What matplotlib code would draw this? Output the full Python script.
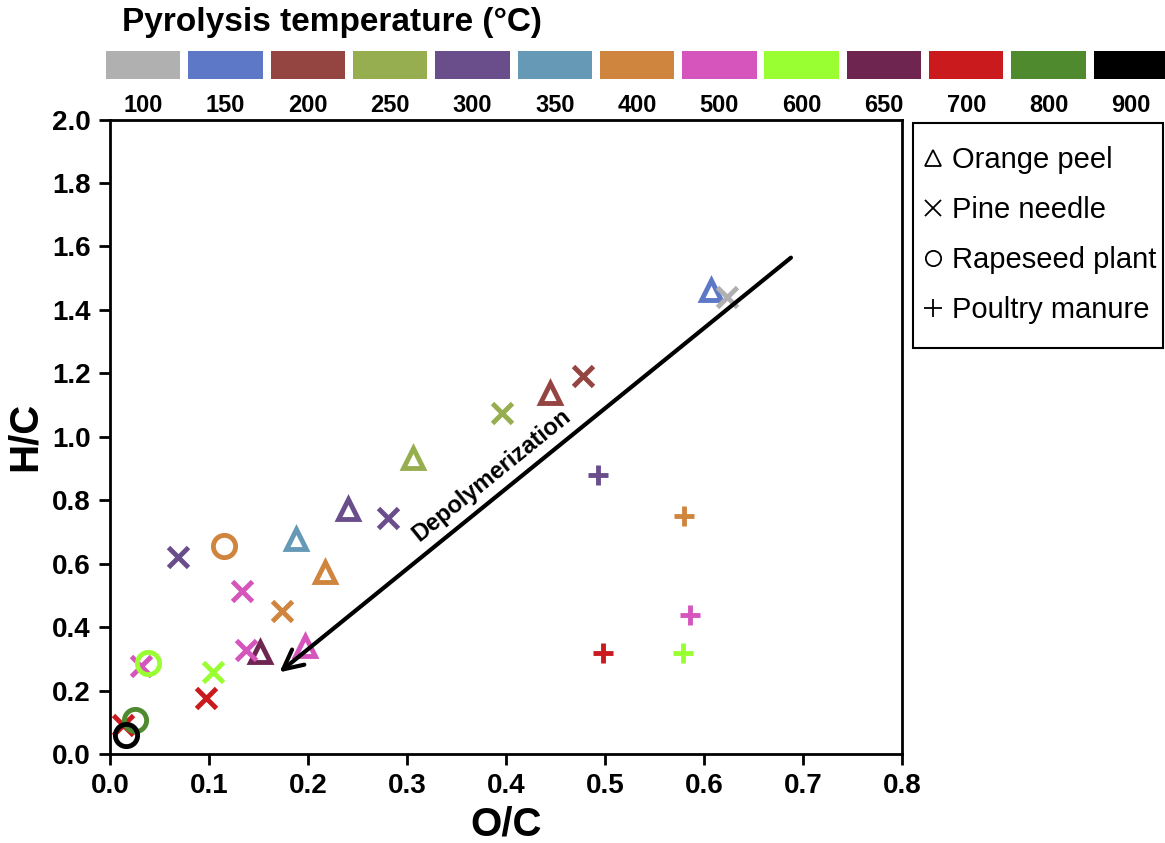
import matplotlib.pyplot as plt
from matplotlib.lines import Line2D
from matplotlib.patches import Rectangle

plt.rcParams['font.family'] = ['Liberation Sans', 'DejaVu Sans']

temps = [100, 150, 200, 250, 300, 350, 400, 500, 600, 650, 700, 800, 900]
temp_colors = ['#B0B0B0', '#5E78C8', '#944441', '#97AE50', '#6A4E8C', '#6699B6',
               '#D0853F', '#D555BC', '#99FF33', '#6E2550', '#CB1A1D', '#4F8A2F', '#000000']
cmap = dict(zip(temps, temp_colors))

# Orange peel (triangles)
op_x = [0.607, 0.444, 0.306, 0.240, 0.188, 0.217, 0.197, 0.152]
op_y = [1.463, 1.138, 0.933, 0.772, 0.678, 0.574, 0.340, 0.322]
op_t = [150, 200, 250, 300, 350, 400, 500, 650]

# Pine needle (x)
pn_x = [0.623, 0.478, 0.396, 0.281, 0.069, 0.174, 0.133, 0.137, 0.031, 0.104, 0.097, 0.013]
pn_y = [1.441, 1.191, 1.075, 0.744, 0.621, 0.451, 0.514, 0.328, 0.277, 0.258, 0.177, 0.091]
pn_t = [100, 200, 250, 300, 300, 400, 500, 500, 500, 600, 700, 700]

# Rapeseed plant (circles)
rp_x = [0.115, 0.038, 0.025, 0.016]
rp_y = [0.656, 0.287, 0.107, 0.060]
rp_t = [400, 600, 800, 900]

# Poultry manure (+)
pm_x = [0.493, 0.580, 0.586, 0.579, 0.498]
pm_y = [0.879, 0.750, 0.438, 0.318, 0.318]
pm_t = [300, 400, 500, 600, 700]

W, H = 1165, 843
fig = plt.figure(figsize=(W / 100, H / 100), dpi=100)
ax = fig.add_axes([110 / W, 1 - 754 / H, 792 / W, 634.5 / H])

ms = 14
for x, y, t in zip(op_x, op_y, op_t):
    ax.plot(x, y, marker='^', ms=ms, mfc='none', mec=cmap[t], mew=3.5, ls='none')
for x, y, t in zip(pn_x, pn_y, pn_t):
    ax.plot(x, y, marker='x', ms=ms + 1, mec=cmap[t], mew=3.5, ls='none')
for x, y, t in zip(rp_x, rp_y, rp_t):
    ax.plot(x, y, marker='o', ms=ms + 2, mfc='none', mec=cmap[t], mew=3.5, ls='none')
for x, y, t in zip(pm_x, pm_y, pm_t):
    ax.plot(x, y, marker='+', ms=ms + 1, mec=cmap[t], mew=3.5, ls='none')

ax.annotate('', xy=(0.169, 0.252), xytext=(0.690, 1.570),
            arrowprops=dict(arrowstyle='->', lw=3, color='black', mutation_scale=35))
ax.text(0.385, 0.879, 'Depolymerization', rotation=39, rotation_mode='anchor',
        ha='center', va='center', fontsize=17, fontweight='bold')

ax.set_xlim(0, 0.8)
ax.set_ylim(0, 2.0)
ax.set_xticks([0.0, 0.1, 0.2, 0.3, 0.4, 0.5, 0.6, 0.7, 0.8])
ax.set_yticks([0.0, 0.2, 0.4, 0.6, 0.8, 1.0, 1.2, 1.4, 1.6, 1.8, 2.0])
ax.xaxis.set_major_formatter(plt.FormatStrFormatter('%.1f'))
ax.yaxis.set_major_formatter(plt.FormatStrFormatter('%.1f'))
ax.tick_params(direction='out', length=8, width=2, labelsize=20, pad=6)
for lab in ax.get_xticklabels() + ax.get_yticklabels():
    lab.set_fontweight('bold')
for s in ax.spines.values():
    s.set_linewidth(2)
ax.set_xlabel('O/C', fontsize=29, fontweight='bold', labelpad=4)
ax.set_ylabel('H/C', fontsize=29, fontweight='bold', labelpad=6)

handles = [
    Line2D([], [], marker='^', mfc='none', mec='black', ms=11, mew=1.3, ls='none'),
    Line2D([], [], marker='x', mec='black', ms=11, mew=1.3, ls='none'),
    Line2D([], [], marker='o', mfc='none', mec='black', ms=11, mew=1.3, ls='none'),
    Line2D([], [], marker='+', mec='black', ms=13, mew=1.3, ls='none'),
]
fig.legend(handles, ['Orange peel', 'Pine needle', 'Rapeseed plant', 'Poultry manure'],
           loc='center left', bbox_to_anchor=(913 / W, 1 - 235 / H),
           fontsize=21, frameon=False,
           handlelength=0.7, handletextpad=0.3, labelspacing=0.75,
           borderpad=0.35, borderaxespad=0)
fig.add_artist(Rectangle((913 / W, 1 - 348 / H), 250 / W, 225 / H,
                         transform=fig.transFigure, fill=False, lw=1.5, ec='black'))

# temperature key
key = fig.add_axes([102.1 / W, 1 - 79 / H, 13 * 82.3 / W, 28 / H])
key.bar(range(len(temps)), 1, width=0.905, color=temp_colors)
key.set_xlim(-0.5, len(temps) - 0.5)
key.set_ylim(0, 1)
key.set_xticks(range(len(temps)))
key.set_xticklabels([str(t) for t in temps], fontsize=17, fontweight='bold')
key.tick_params(length=0, pad=11, left=False, labelleft=False)
for s in key.spines.values():
    s.set_visible(False)

fig.text(122 / W, 1 - 22 / H, 'Pyrolysis temperature (°C)', fontsize=24,
         fontweight='bold', ha='left', va='center')

fig.savefig('out.png', dpi=100)
